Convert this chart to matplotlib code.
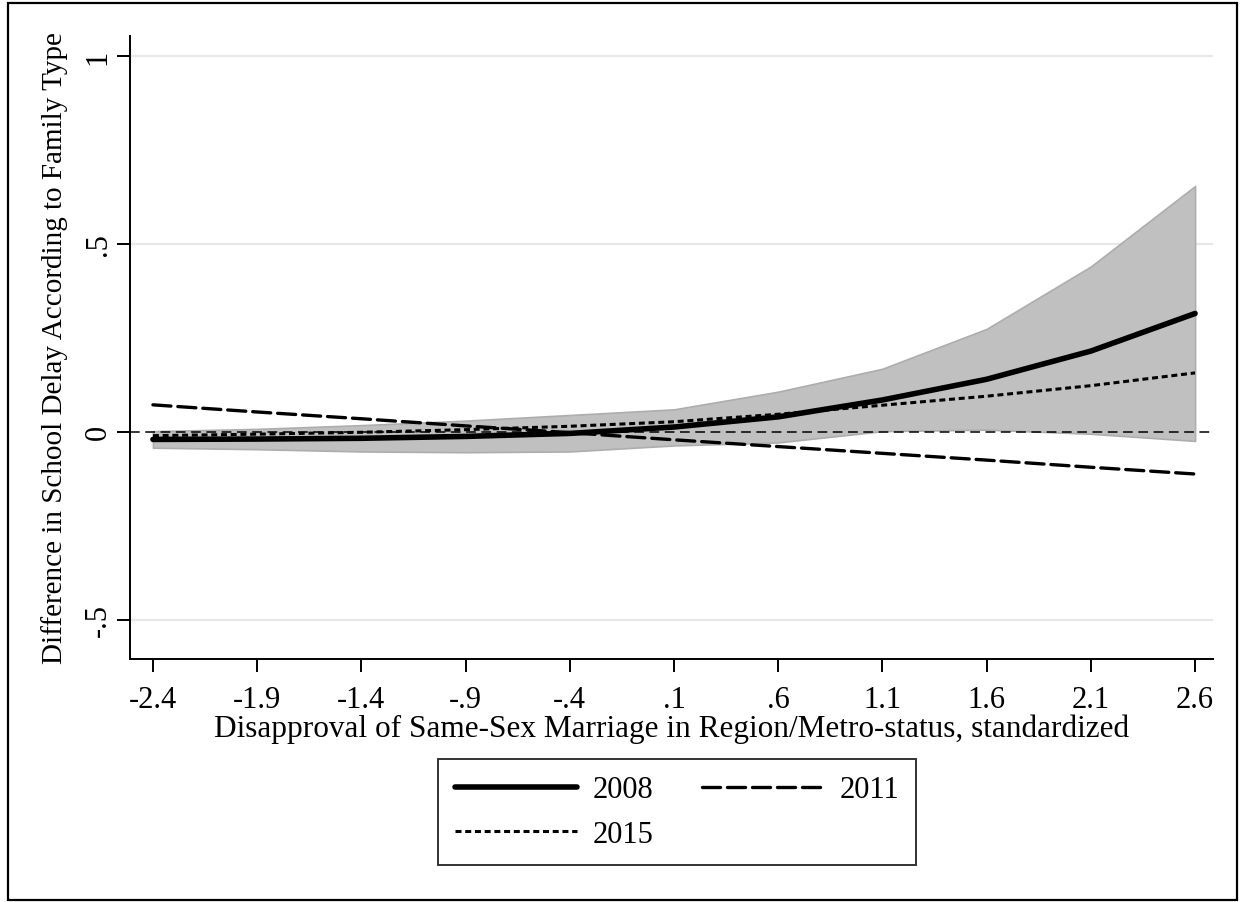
import matplotlib
matplotlib.use("Agg")
import matplotlib.pyplot as plt
from matplotlib.patches import Rectangle

# ---- data ----
x_vals = [-2.4, -1.9, -1.4, -0.9, -0.4, 0.1, 0.6, 1.1, 1.6, 2.1, 2.6]
y2008 = [-0.020, -0.019, -0.017, -0.012, -0.004, 0.013, 0.040, 0.085, 0.140, 0.215, 0.315]
ci_upper = [0.002, 0.008, 0.018, 0.030, 0.045, 0.060, 0.107, 0.168, 0.274, 0.440, 0.654]
ci_lower = [-0.042, -0.046, -0.052, -0.054, -0.052, -0.036, -0.028, 0.002, 0.006, -0.005, -0.024]
y2011 = [0.072, 0.053, 0.035, 0.016, -0.002, -0.021, -0.039, -0.057, -0.075, -0.094, -0.112]
y2015 = [-0.010, -0.006, -0.001, 0.006, 0.015, 0.027, 0.047, 0.071, 0.095, 0.123, 0.157]
x_ticks = [-2.4, -1.9, -1.4, -0.9, -0.4, 0.1, 0.6, 1.1, 1.6, 2.1, 2.6]
x_ticklabels = ["-2.4", "-1.9", "-1.4", "-.9", "-.4", ".1", ".6", "1.1", "1.6", "2.1", "2.6"]
y_ticks = [-0.5, 0, 0.5, 1]
y_ticklabels = ["-.5", "0", ".5", "1"]
series_labels = ["2008", "2011", "2015"]

plt.rcParams['font.family'] = ['Liberation Serif', 'DejaVu Serif']
plt.rcParams['lines.scale_dashes'] = False

FS = 22
W, H = 1243, 903
fig = plt.figure(figsize=(W / 100, H / 100), dpi=100)
ax = fig.add_axes([130 / W, 1 - 660 / H, (1213 - 130) / W, (660 - 37) / H])

ax.set_xlim(-2.51, 2.686)
ax.set_ylim(-0.604, 1.053)

# gridlines
for yv in y_ticks:
    if yv != 0:
        ax.axhline(yv, color='#e8e8e8', lw=1.6, zorder=0)

ax.fill_between(x_vals, ci_lower, ci_upper, facecolor='#c0c0c0',
                edgecolor='#adadad', lw=1.2, zorder=1)
ax.axhline(0, color='black', lw=1.1, dashes=(7, 4), zorder=2)

l1, = ax.plot(x_vals, y2008, color='black', lw=4.0, solid_capstyle='round',
              solid_joinstyle='round', zorder=5, label=series_labels[0])
l2, = ax.plot(x_vals, y2011, color='black', lw=2.4, dashes=(13, 5),
              dash_capstyle='round', zorder=4, label=series_labels[1])
l3, = ax.plot(x_vals, y2015, color='black', lw=2.2, dashes=(4.3, 2.7),
              zorder=4, label=series_labels[2])

ax.spines['top'].set_visible(False)
ax.spines['right'].set_visible(False)
ax.spines['left'].set_linewidth(1.4)
ax.spines['bottom'].set_linewidth(1.4)

ax.set_xticks(x_ticks)
ax.set_xticklabels(x_ticklabels, fontsize=FS)
ax.set_yticks(y_ticks)
ax.set_yticklabels(y_ticklabels, fontsize=FS, rotation=90, va='center')
ax.tick_params(axis='both', direction='out', length=9.5, width=1.4, color='black')
ax.tick_params(axis='x', pad=9)
ax.tick_params(axis='y', pad=3)

ax.set_xlabel("Disapproval of Same-Sex Marriage in Region/Metro-status, standardized",
              fontsize=22.5, labelpad=0)
ax.set_ylabel("Difference in School Delay According to Family Type",
              fontsize=21, labelpad=11)

leg = fig.legend(handles=[l1, l3, l2], labels=[series_labels[0], series_labels[2], series_labels[1]],
                 ncol=2, loc='center', bbox_to_anchor=(677 / W, 1 - 813 / H),
                 fontsize=FS, frameon=True, fancybox=False, handlelength=4.0,
                 columnspacing=1.6, handletextpad=0.5, borderpad=0.55,
                 labelspacing=0.5, borderaxespad=0)
leg.get_frame().set_edgecolor('black')
leg.get_frame().set_linewidth(1.4)

# outer figure frame
fig.patches.append(Rectangle((8 / W, 2 / H), (1237 - 8) / W, (899 - 2) / H,
                             transform=fig.transFigure, fill=False,
                             edgecolor='black', lw=1.6))

fig.savefig("out.png", dpi=100)
